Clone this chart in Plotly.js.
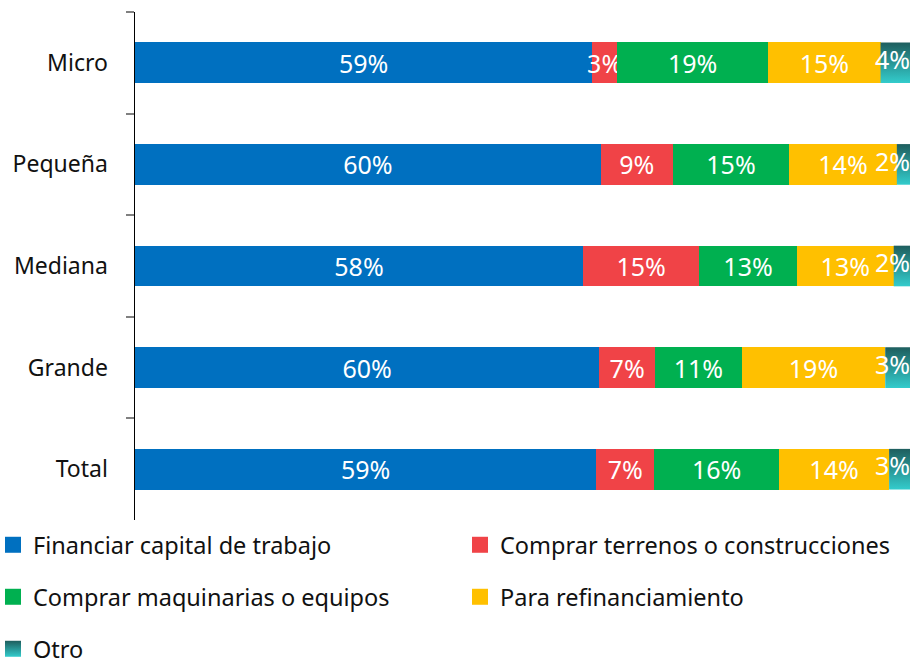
<!DOCTYPE html>
<html><head><meta charset="utf-8">
<script src="https://cdn.plot.ly/plotly-3.0.1.min.js"></script>
<style>html,body{margin:0;padding:0;background:#fff}#chart{width:910px;height:661px}</style>
</head><body><div id="chart"></div>
<script>
// ---- data ----
const categories = ['Micro', 'Pequeña', 'Mediana', 'Grande', 'Total'];
const seriesNames = ['Financiar capital de trabajo', 'Comprar terrenos o construcciones',
  'Comprar maquinarias o equipos', 'Para refinanciamiento', 'Otro'];
const capitalTrabajo = [59.0, 60.1, 57.8, 59.9, 59.5];
const terrenos = [3.2, 9.3, 15.0, 7.2, 7.5];
const maquinarias = [19.5, 15.0, 12.6, 11.2, 16.1];
const refinanciamiento = [14.5, 13.9, 12.5, 18.5, 14.2];
const otro = [3.8, 1.7, 2.1, 3.2, 2.7];
const labelsCapital = ['59%', '60%', '58%', '60%', '59%'];
const labelsTerrenos = ['3%', '9%', '15%', '7%', '7%'];
const labelsMaquinarias = ['19%', '15%', '13%', '11%', '16%'];
const labelsRefin = ['15%', '14%', '13%', '19%', '14%'];
const labelsOtro = ['4%', '2%', '2%', '3%', '3%'];

// ---- styles ----
const colors = ['#0070C0', '#F04347', '#00B050', '#FFC000', '#1E5E5E'];
const otroBottom = '#33CCCC';
const FONT = 'Noto Sans, Open Sans, sans-serif';
const LABEL_SIZE = 25;
const TICK_SIZE = 23;
const LEGEND_SIZE = 23.5;
const BARGAP = 0.6;
const half = (1 - BARGAP) / 2;
const r3 = v => Math.round(v * 1000) / 1000;

const barSeries = [capitalTrabajo, terrenos, maquinarias, refinanciamiento];
const barLabels = [labelsCapital, labelsTerrenos, labelsMaquinarias, labelsRefin];

const traces = [];
barSeries.forEach((vals, k) => {
  traces.push({
    type: 'bar', orientation: 'h', y: categories, x: vals,
    text: barLabels[k], textposition: 'inside', insidetextanchor: 'middle',
    constraintext: 'none', textangle: 0,
    textfont: {family: FONT, size: LABEL_SIZE, color: '#ffffff'},
    marker: {color: colors[k], line: {width: 0}},
    name: seriesNames[k], showlegend: false, hoverinfo: 'skip'
  });
});

// "Otro" segments with vertical gradient, on an overlaid linear axis matching the category slots
const otroEndX = [], otroY = [];
categories.forEach((c, i) => {
  const base = r3(capitalTrabajo[i] + terrenos[i] + maquinarias[i] + refinanciamiento[i]);
  const end = r3(base + otro[i]);
  traces.push({
    type: 'scatter', mode: 'none', yaxis: 'y2',
    x: [base, end, end, base, base],
    y: [i - half, i - half, i + half, i + half, i - half],
    fill: 'toself',
    fillgradient: {type: 'vertical', colorscale: [[0, otroBottom], [1, colors[4]]]},
    showlegend: false, hoverinfo: 'skip'
  });
  otroEndX.push(end);
  otroY.push(i);
});
traces.push({
  type: 'scatter', mode: 'text', yaxis: 'y2', x: otroEndX, y: otroY, text: labelsOtro,
  textposition: 'middle left', cliponaxis: false,
  textfont: {family: FONT, size: LABEL_SIZE, color: '#ffffff'},
  showlegend: false, hoverinfo: 'skip'
});

// legend entries: one legend per entry, laid out in 2 columns x 3 rows
const legendIds = ['legend', 'legend2', 'legend3', 'legend4', 'legend5'];
seriesNames.forEach((n, k) => {
  const m = {symbol: 'square', size: 16, color: colors[k], line: {width: 0}};
  if (k === 4) { m.gradient = {type: 'vertical', color: otroBottom}; }
  traces.push({
    type: 'scatter', mode: 'markers', yaxis: 'y2', x: [null], y: [null],
    name: n, marker: m, legend: legendIds[k], showlegend: true, hoverinfo: 'skip'
  });
});

const PLOT_TOP = 12, PLOT_BOTTOM = 520, PLOT_LEFT = 135, PLOT_W = 775;
const pyToPaper = py => (PLOT_BOTTOM - py) / (PLOT_BOTTOM - PLOT_TOP);
const pxToPaper = px => (px - PLOT_LEFT) / PLOT_W;
function legendAt(px, py) {
  return {
    orientation: 'h', x: pxToPaper(px), xanchor: 'left', y: pyToPaper(py), yanchor: 'middle',
    font: {family: FONT, size: LEGEND_SIZE, color: '#111111'},
    bgcolor: 'rgba(0,0,0,0)', borderwidth: 0
  };
}
const colX = [-7, 460];
const rowY = [545, 597, 649];

const layout = {
  width: 910, height: 661,
  margin: {l: PLOT_LEFT, r: 0, t: PLOT_TOP, b: 661 - PLOT_BOTTOM, pad: 0, autoexpand: false},
  barmode: 'stack', bargap: BARGAP,
  paper_bgcolor: '#ffffff', plot_bgcolor: '#ffffff',
  font: {family: FONT, size: TICK_SIZE, color: '#111111'},
  showlegend: true,
  xaxis: {range: [0, 100], visible: false, fixedrange: true},
  yaxis: {
    type: 'category', categoryorder: 'array', categoryarray: categories,
    range: [categories.length - 0.5, -0.5],
    ticks: 'outside', tickson: 'boundaries', ticklen: 8, tickwidth: 2, tickcolor: '#808080',
    showline: true, linecolor: '#000000', linewidth: 1.5,
    showgrid: false, zeroline: false, ticklabelstandoff: 21,
    tickfont: {family: FONT, size: TICK_SIZE, color: '#111111'}
  },
  yaxis2: {overlaying: 'y', range: [categories.length - 0.5, -0.5], visible: false, fixedrange: true},
  legend: legendAt(colX[0], rowY[0]),
  legend2: legendAt(colX[1], rowY[0]),
  legend3: legendAt(colX[0], rowY[1]),
  legend4: legendAt(colX[1], rowY[1]),
  legend5: legendAt(colX[0], rowY[2])
};

Plotly.newPlot('chart', traces, layout, {staticPlot: true, displayModeBar: false});
</script>
</body></html>
